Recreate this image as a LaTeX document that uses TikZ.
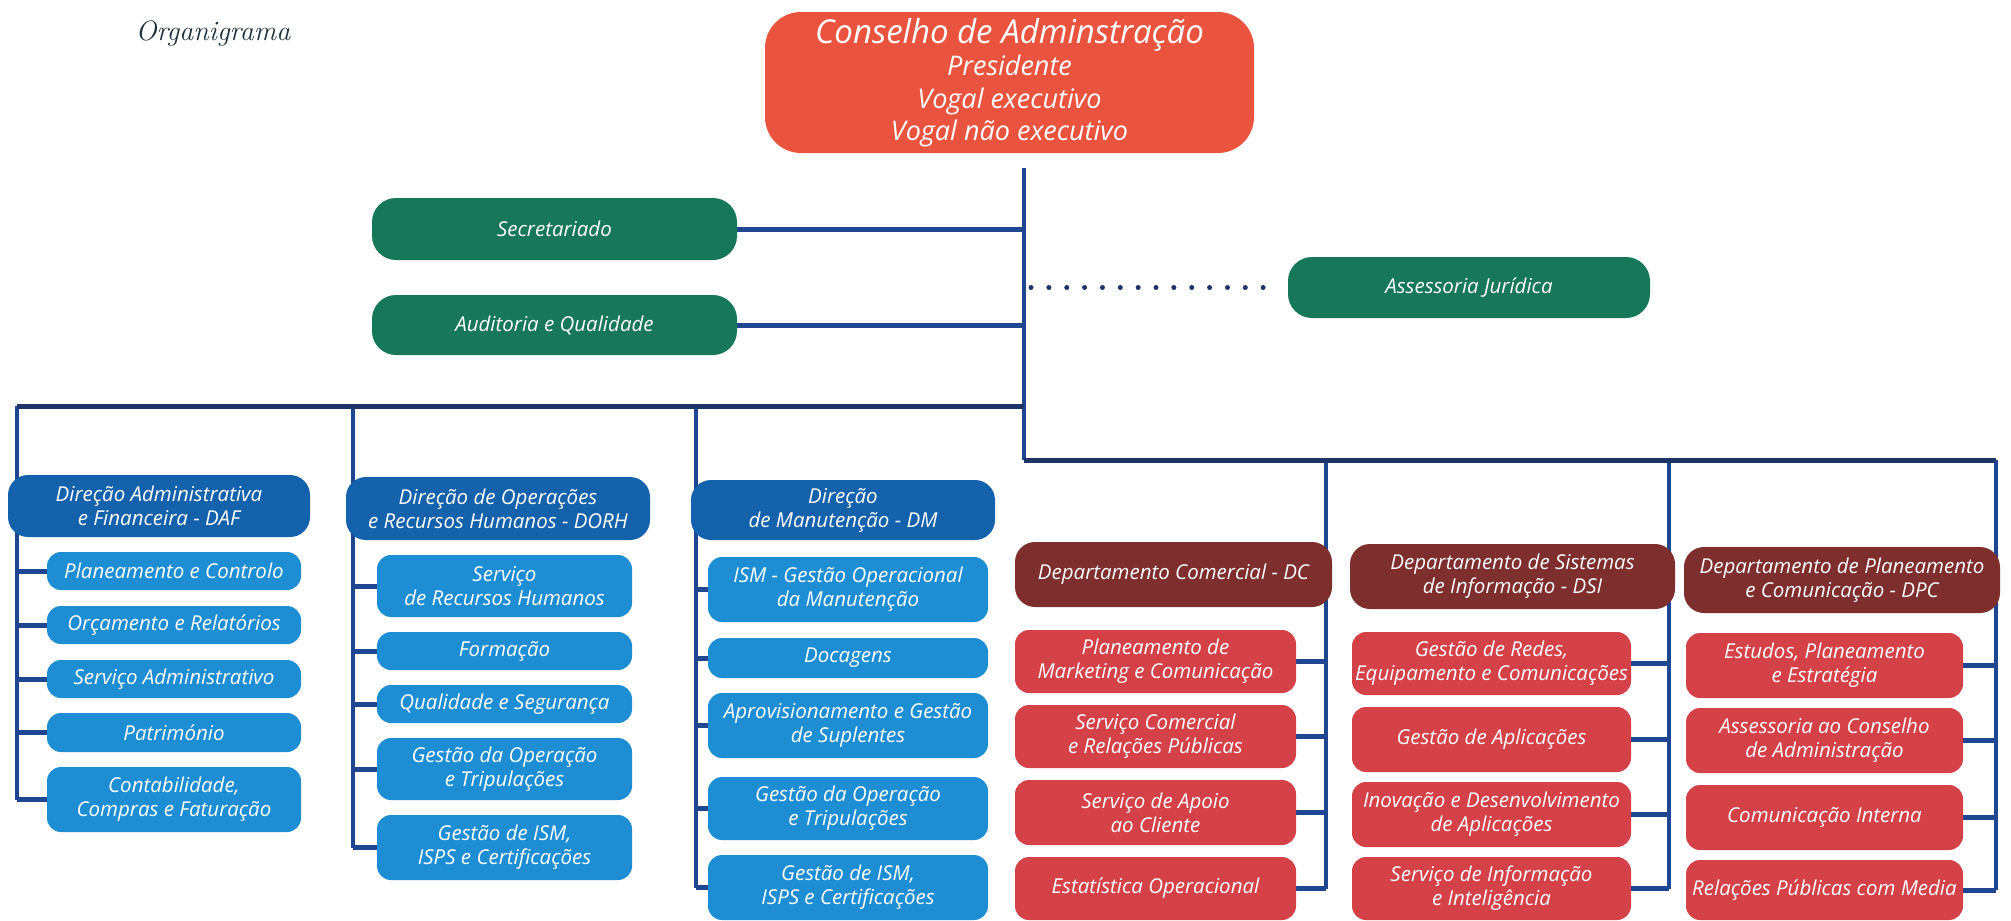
\documentclass[tikz,border=0pt]{standalone}
\usepackage{fontspec}
\newfontfamily\bfam{Open Sans}
\usetikzlibrary{calc}
\pgfdeclarelayer{bg}
\pgfsetlayers{bg,main}
\definecolor{navy}{RGB}{30,70,145}
\definecolor{dnavy}{RGB}{30,52,105}
\definecolor{cred}{RGB}{234,84,62}
\definecolor{cgreen}{RGB}{22,120,88}
\definecolor{hblue}{RGB}{20,98,172}
\definecolor{sblue}{RGB}{30,142,212}
\definecolor{hbrown}{RGB}{126,46,44}
\definecolor{sred}{RGB}{212,66,72}
\definecolor{ink}{RGB}{30,48,62}
\begin{document}
\begin{tikzpicture}[x=1pt,y=-1pt,
  bx/.style={rectangle, rounded corners=14pt, text=white, align=center, inner sep=0pt,
    font=\bfam\itshape\fontsize{20.5}{24}\selectfont},
  hb/.style={bx, fill=hblue, rounded corners=20pt},
  sb/.style={bx, fill=sblue},
  hr/.style={bx, fill=hbrown, rounded corners=20pt},
  sr/.style={bx, fill=sred},
  gb/.style={bx, fill=cgreen, rounded corners=24pt},
  ln/.style={draw=navy, line width=3.5pt},
  br/.style={draw=navy, line width=5pt},
  bus/.style={draw=dnavy, line width=5pt, line join=miter},
  dotline/.style={draw=dnavy, line width=5pt, line cap=round, dash pattern=on 0pt off 17.86pt}
]
\useasboundingbox (0,0) rectangle (2011,921);

\node[anchor=base west, text=ink, font=\itshape\fontsize{28}{30}\selectfont] (title) at (132,40) {Organigrama};

% top
\node[bx, fill=cred, rounded corners=36pt, minimum width=489pt, minimum height=141pt,
  font=\bfam\itshape\fontsize{27}{32.5}\selectfont] (cons) at (1009.5,82.5)
  {{\fontsize{33}{33}\selectfont Conselho de Adminstração}\\Presidente\\Vogal executivo\\Vogal não executivo};
\node[gb, minimum width=365pt, minimum height=62pt] (sec) at (554.5,229) {Secretariado};
\node[gb, minimum width=365pt, minimum height=60pt] (aud) at (554.5,325) {Auditoria e Qualidade};
\node[gb, minimum width=362pt, minimum height=61pt] (ass) at (1469,287.5) {Assessoria Jurídica};

% DAF
\node[hb, minimum width=302pt, minimum height=62pt] (daf) at (159,506) {Direção Administrativa\\e Financeira - DAF};
\node[sb, minimum width=254pt, minimum height=38pt] (daf1) at (174,571) {Planeamento e Controlo};
\node[sb, minimum width=254pt, minimum height=38pt] (daf2) at (174,625) {Orçamento e Relatórios};
\node[sb, minimum width=254pt, minimum height=38pt] (daf3) at (174,679) {Serviço Administrativo};
\node[sb, minimum width=254pt, minimum height=39pt] (daf4) at (174,732.5) {Património};
\node[sb, minimum width=254pt, minimum height=65pt] (daf5) at (174,799.5) {Contabilidade,\\Compras e Faturação};

% DORH
\node[hb, minimum width=304pt, minimum height=63pt] (dorh) at (498,508.5) {Direção de Operações\\e Recursos Humanos - DORH};
\node[sb, minimum width=255pt, minimum height=62pt] (dorh1) at (504.5,586) {Serviço\\de Recursos Humanos};
\node[sb, minimum width=255pt, minimum height=38pt] (dorh2) at (504.5,651) {Formação};
\node[sb, minimum width=255pt, minimum height=38pt] (dorh3) at (504.5,704) {Qualidade e Segurança};
\node[sb, minimum width=255pt, minimum height=62pt] (dorh4) at (504.5,769) {Gestão da Operação\\e Tripulações};
\node[sb, minimum width=255pt, minimum height=65pt] (dorh5) at (504.5,847.5) {Gestão de ISM,\\ISPS e Certificações};

% DM
\node[hb, minimum width=304pt, minimum height=60pt] (dm) at (843,510) {Direção\\de Manutenção - DM};
\node[sb, minimum width=280pt, minimum height=65pt] (dm1) at (848,589.5) {ISM - Gestão Operacional\\da Manutenção};
\node[sb, minimum width=280pt, minimum height=40pt] (dm2) at (848,658) {Docagens};
\node[sb, minimum width=280pt, minimum height=65pt] (dm3) at (848,725.5) {Aprovisionamento e Gestão\\de Suplentes};
\node[sb, minimum width=280pt, minimum height=63pt] (dm4) at (848,808.5) {Gestão da Operação\\e Tripulações};
\node[sb, minimum width=280pt, minimum height=65pt] (dm5) at (848,887.5) {Gestão de ISM,\\ISPS e Certificações};

% DC
\node[hr, minimum width=317pt, minimum height=65pt] (dc) at (1173.5,574.5) {Departamento Comercial - DC};
\node[sr, minimum width=281pt, minimum height=63pt] (dc1) at (1155.5,661.5) {Planeamento de\\Marketing e Comunicação};
\node[sr, minimum width=281pt, minimum height=63pt] (dc2) at (1155.5,736.5) {Serviço Comercial\\e Relações Públicas};
\node[sr, minimum width=281pt, minimum height=65pt] (dc3) at (1155.5,812.5) {Serviço de Apoio\\ao Cliente};
\node[sr, minimum width=281pt, minimum height=63pt] (dc4) at (1155.5,888.5) {Estatística Operacional};

% DSI
\node[hr, minimum width=325pt, minimum height=65pt] (dsi) at (1512.5,576.5) {Departamento de Sistemas\\de Informação - DSI};
\node[sr, minimum width=279pt, minimum height=63pt] (dsi1) at (1491.5,663.5) {Gestão de Redes,\\Equipamento e Comunicações};
\node[sr, minimum width=279pt, minimum height=65pt] (dsi2) at (1491.5,739.5) {Gestão de Aplicações};
\node[sr, minimum width=279pt, minimum height=65pt] (dsi3) at (1491.5,814.5) {Inovação e Desenvolvimento\\de Aplicações};
\node[sr, minimum width=279pt, minimum height=63pt] (dsi4) at (1491.5,888.5) {Serviço de Informação\\e Inteligência};

% DPC
\node[hr, minimum width=316pt, minimum height=66pt] (dpc) at (1842,580) {Departamento de Planeamento\\e Comunicação - DPC};
\node[sr, minimum width=277pt, minimum height=65pt] (dpc1) at (1824.5,665.5) {Estudos, Planeamento\\e Estratégia};
\node[sr, minimum width=277pt, minimum height=65pt] (dpc2) at (1824.5,740.5) {Assessoria ao Conselho\\de Administração};
\node[sr, minimum width=277pt, minimum height=65pt] (dpc3) at (1824.5,817.5) {Comunicação Interna};
\node[sr, minimum width=277pt, minimum height=60pt] (dpc4) at (1824.5,890) {Relações Públicas com Media};

% connector anchor points
\coordinate (tk) at ([xshift=14.5pt,yshift=-15pt]cons.south);
\coordinate (lb) at (1024,406);
\coordinate (rb) at (1024,460);
\coordinate (dafx) at (17,406);
\coordinate (dorhx) at (353,406);
\coordinate (dmx) at (696,406);
\coordinate (dcx) at (1326,460);
\coordinate (dsix) at (1669,460);
\coordinate (dpcx) at (1996,460);

\begin{pgfonlayer}{bg}
  \fill[white] (0,0) rectangle (2011,921);
  \draw[ln] (tk) -- (rb);
  \draw[br] (sec.east) -- (sec.east -| tk);
  \draw[br] (aud.east) -- (aud.east -| tk);
  \draw[dotline] ([xshift=7pt]ass.west -| tk) -- ([xshift=-7pt]ass.west);
  % left bus
  \draw[ln] (dafx) -- (dafx |- daf5.west);
  \draw[ln] (dorhx) -- (dorhx |- dorh5.west);
  \draw[ln] (dmx) -- (dmx |- dm5.west);
  \draw[bus] (dafx) -- (lb);
  % right bus
  \draw[ln] (dcx) -- (dcx |- dc4.east);
  \draw[ln] (dsix) -- (dsix |- dsi4.east);
  \draw[ln] (dpcx) -- (dpcx |- dpc4.east);
  \draw[bus] (rb) -- (dpcx);
  % branches
  \foreach \n in {daf1,daf2,daf3,daf4,daf5} \draw[br] (dafx |- \n.west) -- (\n.west);
  \foreach \n in {dorh1,dorh2,dorh3,dorh4,dorh5} \draw[br] (dorhx |- \n.west) -- (\n.west);
  \foreach \n in {dm1,dm2,dm3,dm4,dm5} \draw[br] (dmx |- \n.west) -- (\n.west);
  \foreach \n in {dc1,dc2,dc3,dc4} \draw[br] (dcx |- \n.east) -- (\n.east);
  \foreach \n in {dsi1,dsi2,dsi3,dsi4} \draw[br] (dsix |- \n.east) -- (\n.east);
  \foreach \n in {dpc1,dpc2,dpc3,dpc4} \draw[br] (dpcx |- \n.east) -- (\n.east);
\end{pgfonlayer}
\end{tikzpicture}
\end{document}
